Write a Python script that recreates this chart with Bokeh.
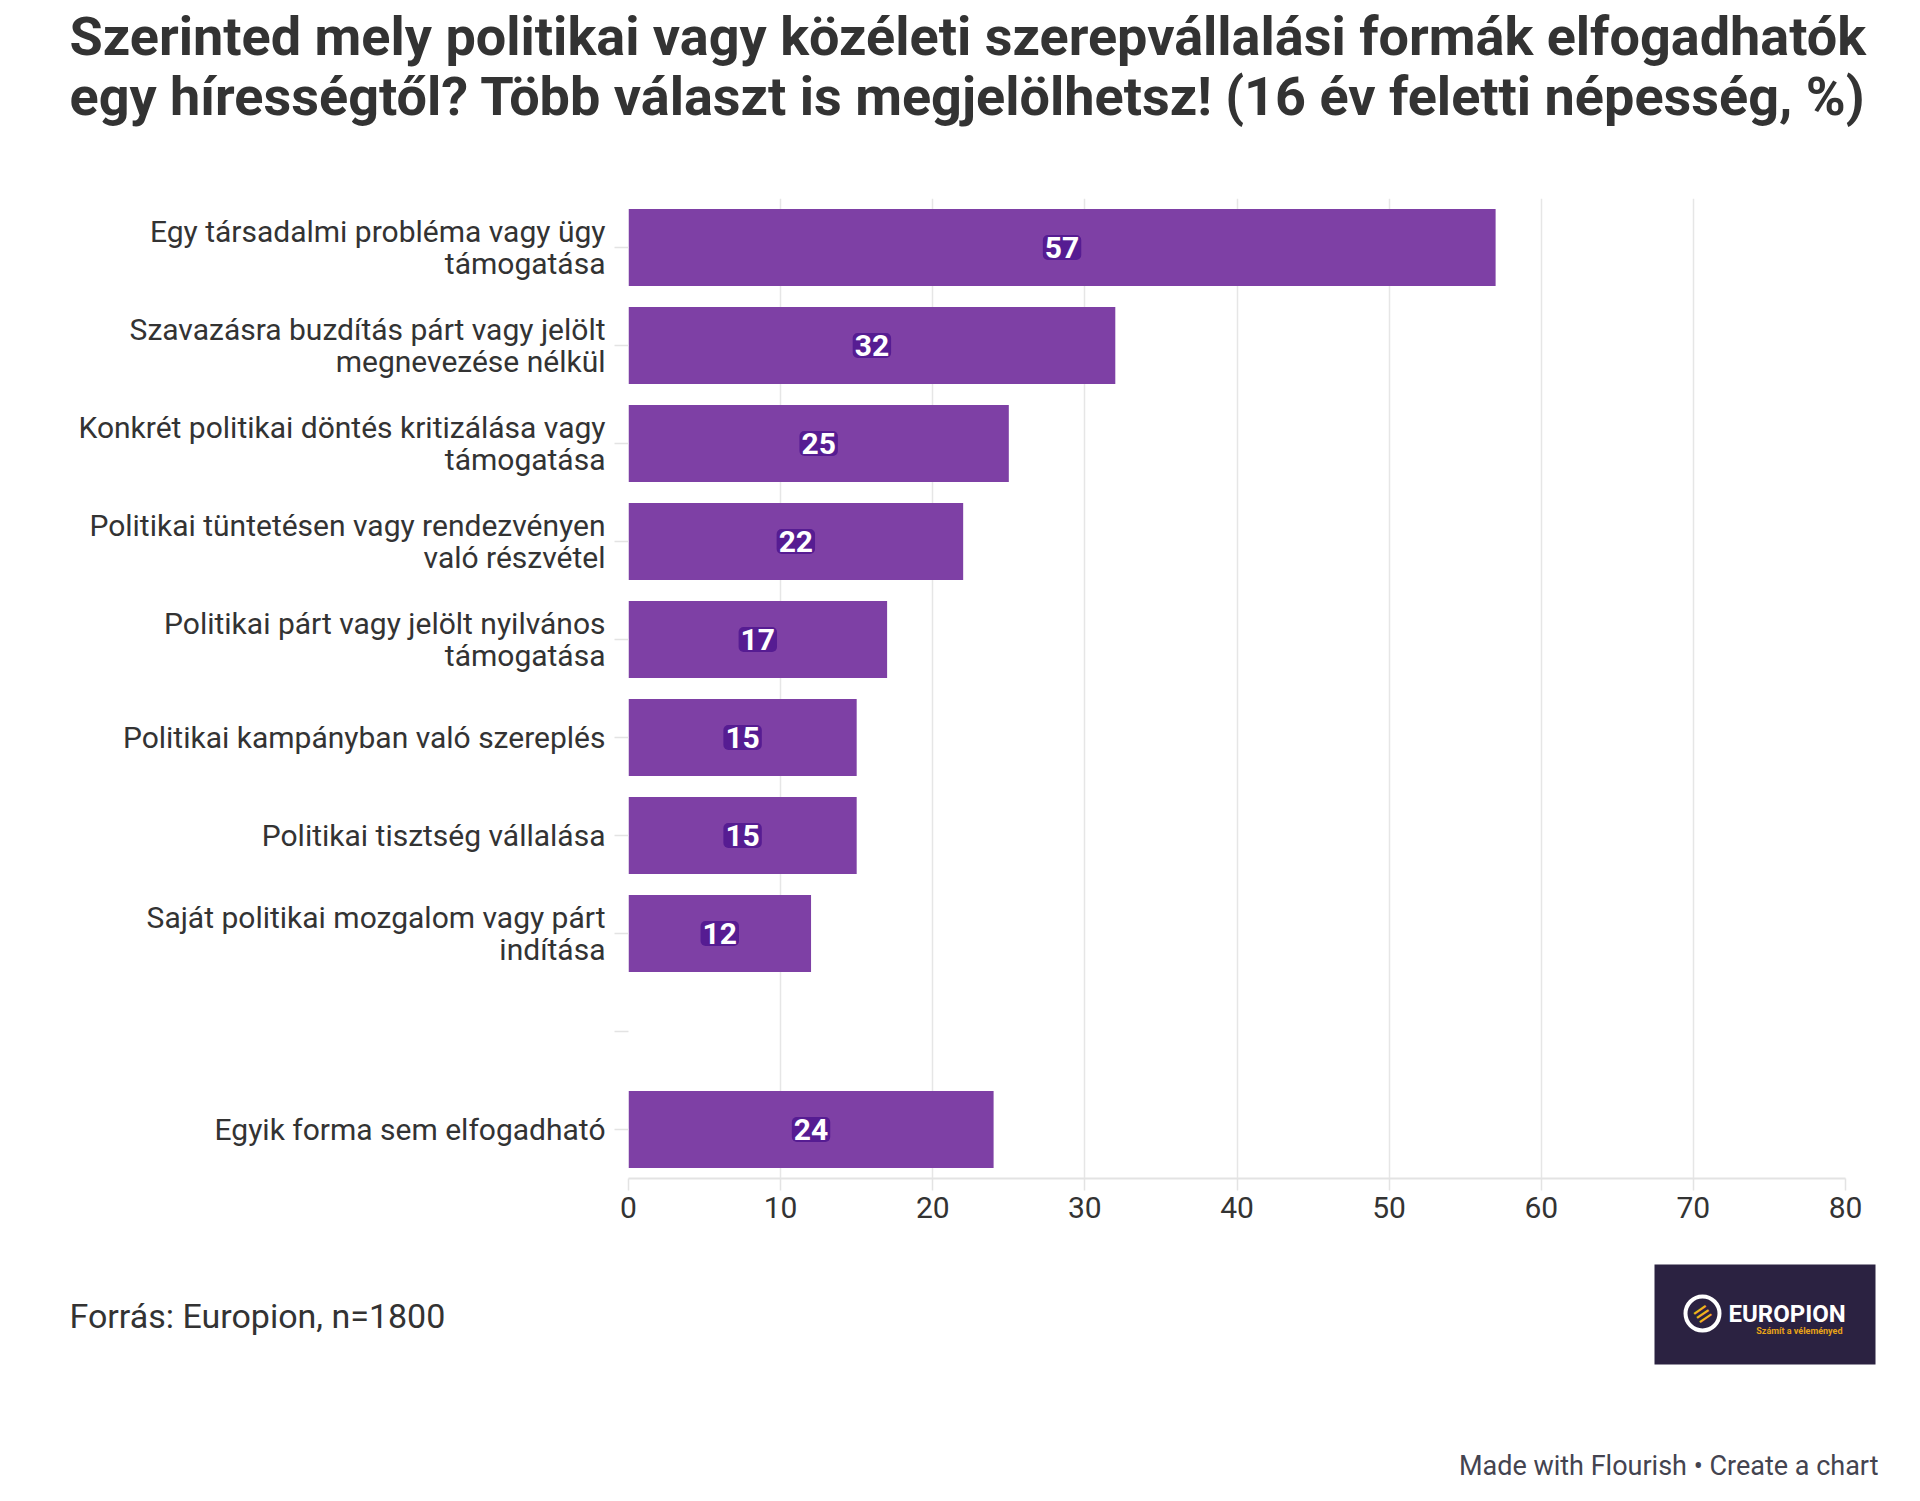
from bokeh.plotting import figure
from bokeh.models import FactorRange, Range1d, FixedTicker, ColumnDataSource
from bokeh.core.properties import value
from bokeh.embed import file_html
from bokeh.resources import INLINE

# ---------------- data ----------------
title_lines = [
    "Szerinted mely politikai vagy közéleti szerepvállalási formák elfogadhatók",
    "egy hírességtől? Több választ is megjelölhetsz! (16 év feletti népesség, %)",
]
categories = [
    "Egy társadalmi probléma vagy ügy\ntámogatása",
    "Szavazásra buzdítás párt vagy jelölt\nmegnevezése nélkül",
    "Konkrét politikai döntés kritizálása vagy\ntámogatása",
    "Politikai tüntetésen vagy rendezvényen\nvaló részvétel",
    "Politikai párt vagy jelölt nyilvános\ntámogatása",
    "Politikai kampányban való szereplés",
    "Politikai tisztség vállalása",
    "Saját politikai mozgalom vagy párt\nindítása",
    "Egyik forma sem elfogadható",
]
values = [57, 32, 25, 22, 17, 15, 15, 12, 24]
blank_row = " "            # empty slot before the last category
x_ticks = [0, 10, 20, 30, 40, 50, 60, 70, 80]
source_note = "Forrás: Europion, n=1800"
credit = "Made with Flourish • Create a chart"
logo_name = "EUROPION"
logo_tagline = "Számít a véleményed"

# ---------------- style / layout ----------------
W = 1904
FONT = "Roboto"
BAR = "#7e40a5"
HALO = "#561c92"
TXT = "#333333"

HEAD_H = 198            # page y of plot-area top
CHART_H = 1052          # chart figure: frame 980 px + x axis
FOOT_TOP = HEAD_H + CHART_H
PAGE_H = 1500


def blank_fig(top, bottom):
    f = figure(width=W, height=bottom - top, output_backend="svg",
               toolbar_location=None, x_axis_location=None, y_axis_location=None,
               x_range=Range1d(0, W), y_range=Range1d(bottom, top),
               min_border=0)
    f.outline_line_color = None
    f.grid.visible = False
    f.background_fill_color = "white"
    f.border_fill_color = "white"
    return f


# ---------------- header ----------------
head = blank_fig(0, HEAD_H)
head.text(x=[69, 69], y=[36, 96], text=title_lines,
          text_font=value(FONT), text_font_style="bold", text_font_size="54px",
          text_color=TXT, text_baseline="middle", text_align="left")

# ---------------- chart ----------------
factors_top_down = categories[:-1] + [blank_row] + categories[-1:]

p = figure(width=W, height=CHART_H, output_backend="svg", toolbar_location=None,
           y_range=FactorRange(factors=list(reversed(factors_top_down))),
           x_range=Range1d(x_ticks[0], x_ticks[-1]),
           min_border_left=628, min_border_right=W - 1845,
           min_border_top=0, min_border_bottom=CHART_H - 980)
p.outline_line_color = None
p.background_fill_color = "white"
p.border_fill_color = "white"

src = ColumnDataSource(dict(
    cat=categories,
    val=values,
    mid=[v / 2 for v in values],
    lab=[str(v) for v in values],
))

p.hbar(y="cat", left=0, right="val", height=0.785, source=src,
       fill_color=BAR, line_color=None)

p.text(x="mid", y="cat", text="lab", source=src,
       text_align="center", text_baseline="middle",
       text_font=value(FONT), text_font_style="bold", text_font_size="30px",
       text_color="white",
       background_fill_color=HALO, padding=2, border_radius=5)

xa = p.xaxis[0]
xa.ticker = FixedTicker(ticks=x_ticks)
xa.axis_line_color = "#e3e3e3"
xa.axis_line_width = 2
xa.major_tick_line_color = "#e3e3e3"
xa.major_tick_line_width = 1.5
xa.major_tick_out = 12
xa.major_tick_in = 0
xa.minor_tick_line_color = None
xa.major_label_text_font = FONT
xa.major_label_text_font_size = "30px"
xa.major_label_text_color = TXT
xa.major_label_standoff = 6

p.xgrid.grid_line_color = "#e6e6e6"
p.xgrid.grid_line_width = 1.5
p.ygrid.grid_line_color = None

ya = p.yaxis[0]
ya.axis_line_color = None
ya.major_tick_line_color = "#e3e3e3"
ya.major_tick_line_width = 1.5
ya.major_tick_out = 14
ya.major_tick_in = 0
ya.major_label_text_font = FONT
ya.major_label_text_font_size = "30px"
ya.major_label_text_color = TXT
ya.major_label_text_line_height = 0.93
ya.major_label_standoff = 9

# ---------------- footer ----------------
foot = blank_fig(FOOT_TOP, PAGE_H)
foot.text(x=[69], y=[1315], text=[source_note],
          text_font=value(FONT), text_font_size="34px", text_color=TXT,
          text_baseline="middle", text_align="left")
foot.text(x=[1878], y=[1465], text=[credit],
          text_font=value(FONT), text_font_size="27px", text_color="#444450",
          text_baseline="middle", text_align="right")
# logo
foot.quad(left=[1654], right=[1875], top=[1264], bottom=[1364],
          fill_color="#2b2241", line_color=None)
foot.scatter(x=[1702], y=[1313], size=34, marker="circle",
             fill_color=None, line_color="white", line_width=4)
foot.text(x=[1702], y=[1313], text=["≡"], angle=0.6,
          text_font=value(FONT), text_font_style="bold", text_font_size="30px",
          text_color="#f0b21c", text_align="center", text_baseline="middle")
foot.text(x=[1728], y=[1313], text=[logo_name],
          text_font=value(FONT), text_font_style="bold", text_font_size="24px",
          text_color="white", text_baseline="middle", text_align="left")
foot.text(x=[1842], y=[1330], text=[logo_tagline],
          text_font=value(FONT), text_font_style="bold", text_font_size="9px",
          text_color="#e8a317", text_baseline="middle", text_align="right")

open("out.html", "w").write(file_html([head, p, foot], INLINE))
